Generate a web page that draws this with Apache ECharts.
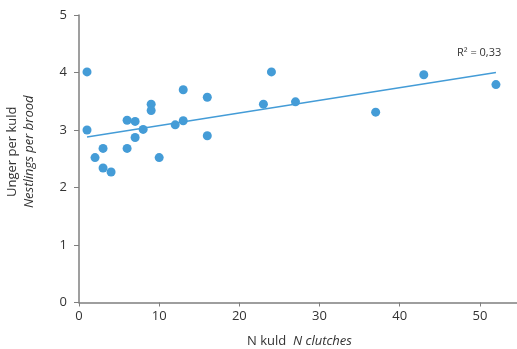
<!DOCTYPE html>
<html>
<head>
<meta charset="utf-8">
<script src="https://cdn.jsdelivr.net/npm/echarts@6/dist/echarts.min.js"></script>
<style>html,body{margin:0;padding:0;background:#fff}#c{width:517px;height:349px}</style>
</head>
<body>
<div id="c"></div>
<script>
const clutches = [1, 1, 2, 3, 3, 4, 6, 6, 7, 7, 8, 9, 9, 10, 12, 13, 13, 16, 16, 23, 24, 27, 37, 43, 52];
const nestlings = [4.01, 3.0, 2.52, 2.68, 2.34, 2.27, 3.17, 2.68, 3.15, 2.87, 3.01, 3.45, 3.34, 2.52, 3.09, 3.16, 3.70, 3.57, 2.90, 3.45, 4.01, 3.49, 3.31, 3.96, 3.79];
const trendX = [1, 52];
const trendY = [2.88, 4.0];
const r2Label = 'R² = 0,33';
const xTicks = [0, 10, 20, 30, 40, 50];
const yTicks = [0, 1, 2, 3, 4, 5];

const font = '"Open Sans", "Noto Sans", sans-serif';
const blue = '#449cd7';
const axisGray = '#7f7f7f';
const textCol = '#333333';

const chart = echarts.init(document.getElementById('c'), null, {renderer: 'canvas'});
chart.setOption({
  animation: false,
  backgroundColor: '#fff',
  grid: {left: 79, right: -3, top: 15, bottom: 46.5, containLabel: false, outerBoundsMode: 'none'},
  xAxis: {
    type: 'value', min: 0, max: 55, interval: 10,
    splitLine: {show: false},
    axisLine: {lineStyle: {color: axisGray, width: 1.5}},
    axisTick: {show: true, length: 4, lineStyle: {color: axisGray, width: 1}},
    axisLabel: {color: textCol, fontFamily: font, fontSize: 13, margin: 7, showMaxLabel: false,
      formatter: v => xTicks.includes(v) ? String(v) : ''},
    name: '{a|N kuld}  {b|N clutches}',
    nameLocation: 'middle', nameGap: 32,
    nameTextStyle: {rich: {
      a: {fontFamily: font, fontSize: 13, color: textCol},
      b: {fontFamily: font, fontSize: 13, color: textCol, fontStyle: 'italic'}
    }}
  },
  yAxis: {
    type: 'value', min: 0, max: 5, interval: 1,
    splitLine: {show: false},
    axisLine: {show: true, lineStyle: {color: axisGray, width: 1.5}},
    axisTick: {show: true, length: 5, lineStyle: {color: axisGray, width: 1}},
    axisLabel: {color: textCol, fontFamily: font, fontSize: 13, margin: 12,
      formatter: v => yTicks.includes(v) ? String(v) : ''},
    name: '{a|Unger per kuld}\n{b|Nestlings per brood}',
    nameLocation: 'middle', nameGap: 41,
    nameTextStyle: {lineHeight: 17, padding: [0, 0, 0, 14], rich: {
      a: {fontFamily: font, fontSize: 13, color: textCol, lineHeight: 17},
      b: {fontFamily: font, fontSize: 13, color: textCol, fontStyle: 'italic', lineHeight: 17}
    }}
  },
  series: [
    {
      type: 'line',
      data: trendX.map((x, i) => [x, trendY[i]]),
      showSymbol: false, symbol: 'none',
      lineStyle: {color: blue, width: 1.5},
      z: 1
    },
    {
      type: 'scatter',
      data: clutches.map((x, i) => [x, nestlings[i]]),
      symbolSize: 9,
      itemStyle: {color: blue, opacity: 1},
      z: 2
    }
  ]
});

const endPt = chart.convertToPixel({gridIndex: 0}, [trendX[1], trendY[1]]);
chart.setOption({
  graphic: [{
    type: 'text', left: endPt[0] - 39, top: endPt[1] - 25,
    style: {text: r2Label, fontFamily: font, fontSize: 11, fill: textCol}
  }]
});
</script>
</body>
</html>
